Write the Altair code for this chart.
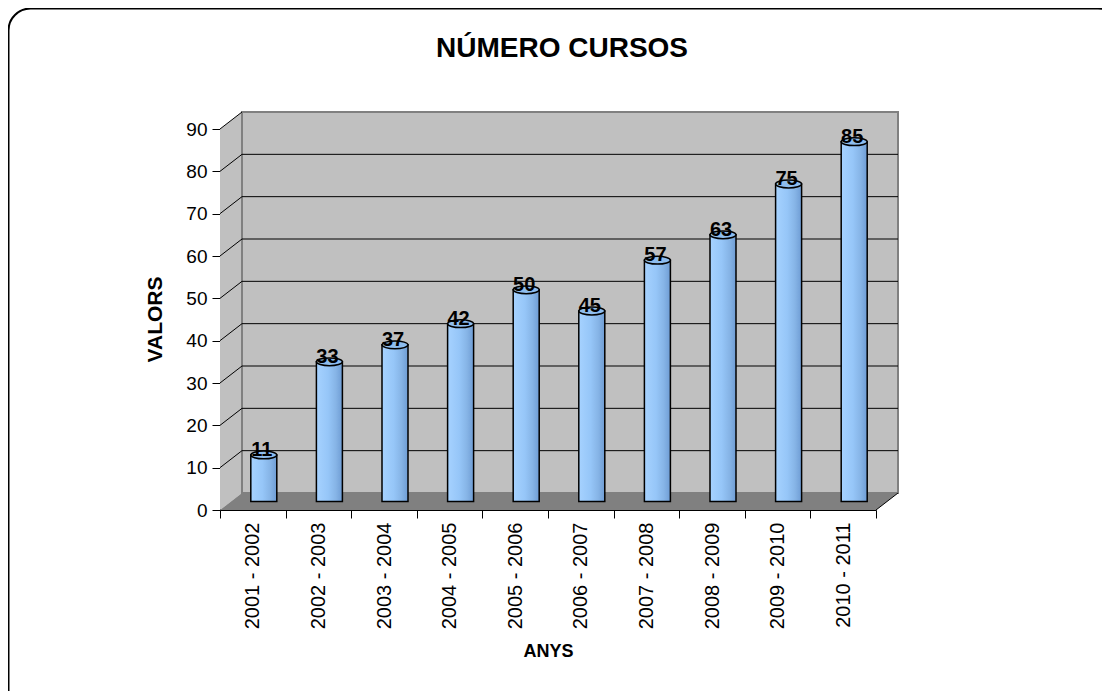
import altair as alt
import pandas as pd

# ---- data ----
years = ["2001 - 2002", "2002 - 2003", "2003 - 2004", "2004 - 2005", "2005 - 2006",
         "2006 - 2007", "2007 - 2008", "2008 - 2009", "2009 - 2010", "2010 - 2011"]
courses = [11, 33, 37, 42, 50, 45, 57, 63, 75, 85]
tick_values = [0, 10, 20, 30, 40, 50, 60, 70, 80, 90]

title_text = "NÚMERO CURSOS"
y_title = "VALORS"
x_title = "ANYS"

# ---- layout / style ----
W, H = 656, 381          # plot area
DX, DY = 22, -17         # 3D depth of the box
BX, BY = 11, -8.5        # cylinders sit half-way into the depth
FONT = "Liberation Sans"

df = pd.DataFrame({"ANYS": years, "VALORS": courses})
gdf = pd.DataFrame({"VALORS": tick_values})
one = pd.DataFrame({"k": [0]})

x_scale = alt.Scale(domain=years, paddingInner=0, paddingOuter=0)
y_scale = alt.Scale(domain=[0, 90], nice=False, zero=True)

x_axis = alt.Axis(
    title=x_title, labelAngle=270, tickBand="extent", tickSize=8, tickColor="black",
    domainColor="black", labelFont=FONT, labelFontSize=20, labelColor="black",
    labelPadding=4, titleFont=FONT, titleFontSize=18, titleFontWeight="bold",
    titleColor="black", titleY=141, titleBaseline="middle", grid=False,
)
y_axis = alt.Axis(
    title=y_title, values=tick_values, tickSize=8, tickColor="black", domainColor="black",
    labelFont=FONT, labelFontSize=19, labelColor="black", labelPadding=5, grid=False,
    titleFont=FONT, titleFontSize=21, titleFontWeight="bold", titleColor="black",
    titleAngle=270, titleX=-65, titleY=190, titleAlign="center", titleBaseline="middle",
)


def poly(path, fill=None, stroke=None, sw=1):
    kw = dict(shape=path, size=4, opacity=1, strokeWidth=sw)
    if fill:
        kw.update(filled=True, fill=fill, fillOpacity=1)
    else:
        kw.update(filled=False)
    kw["stroke"] = stroke if stroke else "transparent"
    return alt.Chart(one).mark_point(**kw).encode(x=alt.value(0), y=alt.value(0))


border = alt.Chart(one).mark_rect(
    cornerRadius=22, fillOpacity=0, stroke="black", strokeWidth=2
).encode(x=alt.value(-211.5), x2=alt.value(900), y=alt.value(-120.5), y2=alt.value(600))

side_wall = poly(f"M0,0 L{DX},{DY} L{DX},{H + DY} L0,{H} Z", fill="#C0C0C0")
back_wall = poly(f"M{DX},{DY} L{W + DX},{DY} L{W + DX},{H + DY} L{DX},{H + DY} Z",
                 fill="#C0C0C0", stroke="#808080", sw=2)
floor = poly(f"M0,{H} L{W},{H} L{W + DX},{H + DY} L{DX},{H + DY} Z", fill="#808080")
floor_edge = poly(f"M{W},{H} L{W + DX},{H + DY}", stroke="black", sw=1)

grid_h = alt.Chart(gdf[(gdf.VALORS > 0) & (gdf.VALORS < 90)]).mark_rule(
    color="black", strokeWidth=1, yOffset=DY
).encode(y=alt.Y("VALORS:Q", scale=y_scale, axis=y_axis),
         x=alt.value(DX), x2=alt.value(W + DX))

grid_d = alt.Chart(gdf[gdf.VALORS > 0]).mark_rule(
    color="black", strokeWidth=1, y2Offset=DY
).encode(y=alt.Y("VALORS:Q", scale=y_scale, axis=y_axis), y2=alt.Y2("VALORS:Q"),
         x=alt.value(0), x2=alt.value(DX))

grad = alt.Gradient(
    gradient="linear", x1=0, x2=1, y1=0, y2=0,
    stops=[alt.GradientStop(color="#A6D2FF", offset=0),
           alt.GradientStop(color="#96C6F8", offset=0.45),
           alt.GradientStop(color="#86B4E6", offset=0.75),
           alt.GradientStop(color="#6E9CD4", offset=1)],
)

base = alt.Chart(df).encode(
    x=alt.X("ANYS:N", sort=years, scale=x_scale, axis=x_axis),
    y=alt.Y("VALORS:Q", scale=y_scale, axis=y_axis),
)

bars = base.mark_bar(
    width=26, xOffset=BX, yOffset=BY, y2Offset=BY, color=grad,
    stroke="black", strokeWidth=1.5,
)

ELLIPSE = "M-1,0 A1,0.3 0 1,1 1,0 A1,0.3 0 1,1 -1,0 Z"
tops = base.mark_point(
    shape=ELLIPSE, size=676, filled=True, fill="#8EBDEE", fillOpacity=1, opacity=1,
    stroke="black", strokeWidth=1.5, xOffset=BX, yOffset=BY,
)

labels = base.mark_text(
    font=FONT, fontSize=20, fontWeight="bold", color="black", align="center",
    baseline="alphabetic", dx=BX - 2, dy=BY + 1,
).encode(text="VALORS:Q")

title = alt.Chart(one).mark_text(
    text=title_text, font=FONT, fontSize=28, fontWeight="bold", color="black",
    align="center", baseline="alphabetic",
).encode(x=alt.value(342), y=alt.value(-72))

chart = alt.layer(
    border, side_wall, back_wall, floor, floor_edge, grid_h, grid_d, bars, tops, labels, title
).properties(
    width=W, height=H,
    autosize=alt.AutoSizeParams(type="none"),
    padding={"left": 212, "top": 121, "right": 226, "bottom": 181},
    background="white",
).configure_view(strokeWidth=0)

chart.save("out.html", embed_options={"renderer": "svg", "actions": False})
